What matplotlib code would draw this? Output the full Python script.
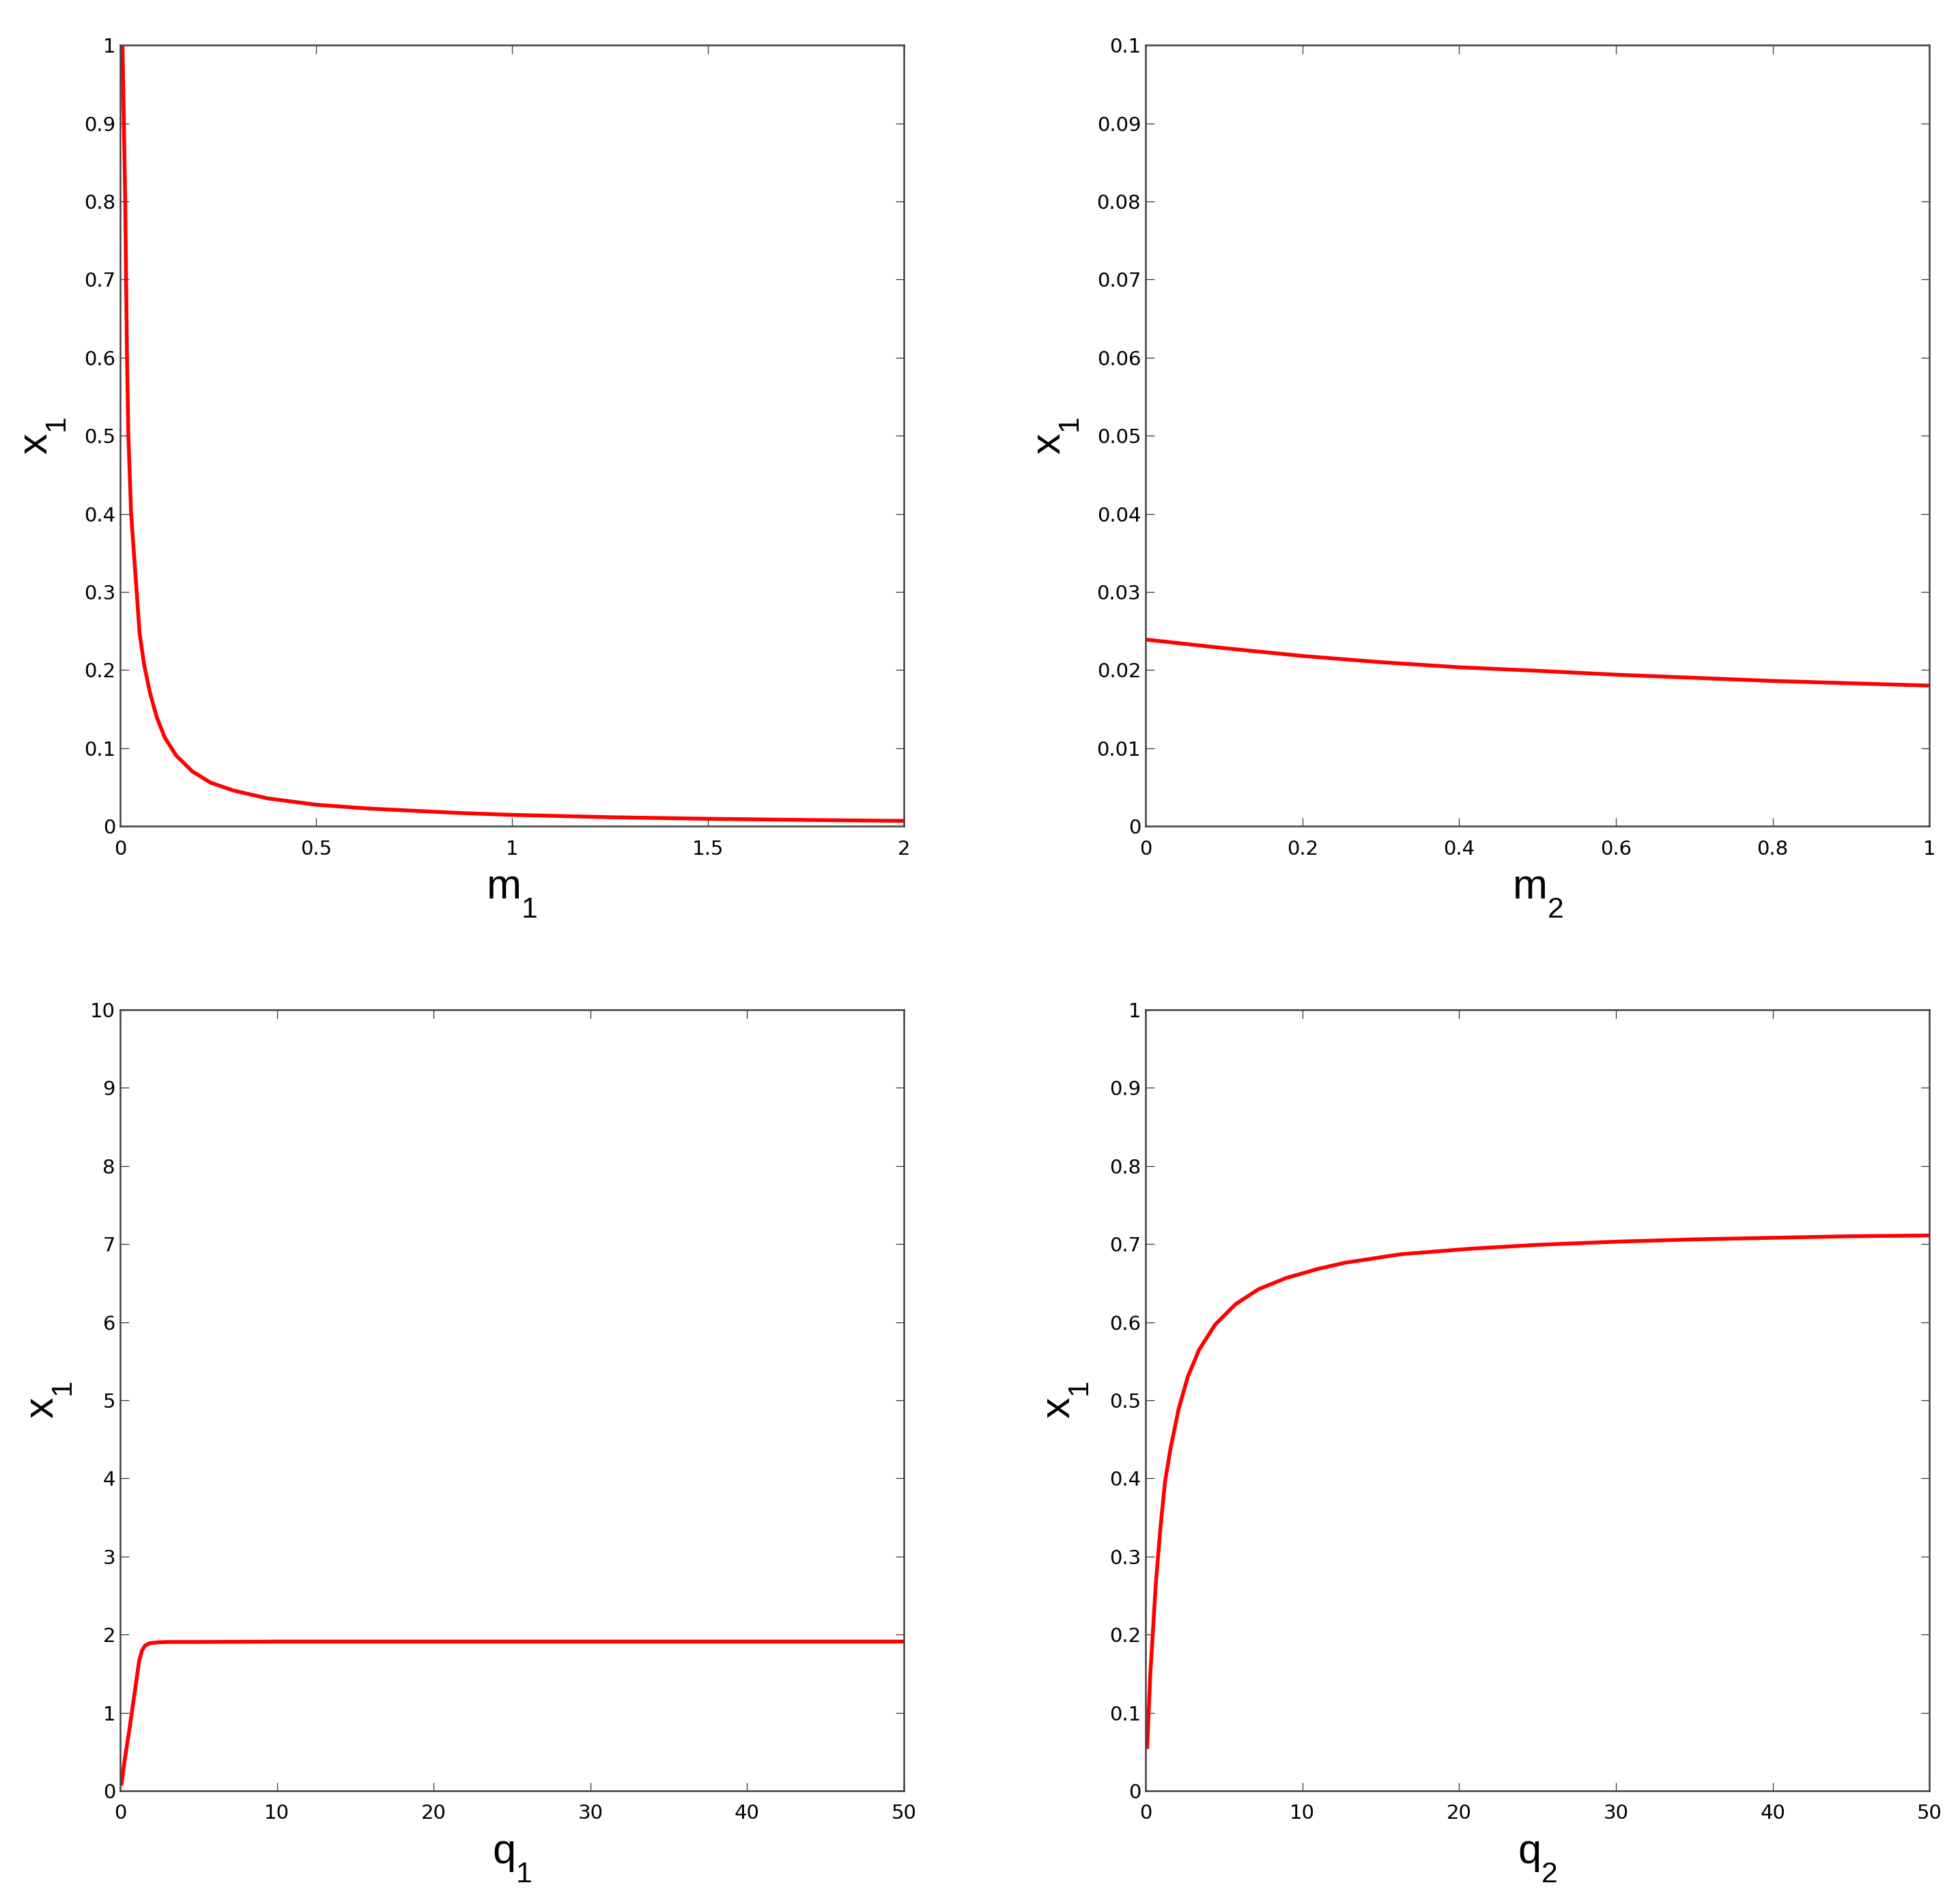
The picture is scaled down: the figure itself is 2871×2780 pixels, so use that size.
import numpy as np
import matplotlib
matplotlib.use('Agg')
import matplotlib.pyplot as plt
from matplotlib.ticker import MultipleLocator, FormatStrFormatter

plt.rcParams['font.family'] = ['Liberation Sans', 'DejaVu Sans']
plt.rcParams['mathtext.fontset'] = 'custom'
plt.rcParams['mathtext.rm'] = 'Liberation Sans'
plt.rcParams['mathtext.it'] = 'Liberation Sans'

# MATLAB drops subscripts further below the baseline than mathtext does
try:
    import matplotlib._mathtext as _mt
    _mt.FontConstantsBase.sub1 = 0.9
except Exception:
    pass

# ===== data =====
# top left: x1 vs m1
m1 = [0.006, 0.0095, 0.013, 0.0152, 0.0175, 0.021, 0.028, 0.0415, 0.0496, 0.0613,
      0.0758, 0.0933, 0.1137, 0.1429, 0.1839, 0.2305, 0.289, 0.3765, 0.5,
      0.628, 0.745, 0.862, 1.0, 1.25, 1.5, 1.75, 2.0]
x1_m1 = [1.0, 0.9, 0.8, 0.7, 0.6, 0.5, 0.4, 0.3047, 0.247, 0.2063,
         0.1716, 0.1398, 0.1137, 0.0905, 0.0703, 0.0558, 0.0457, 0.0356, 0.0275,
         0.0228, 0.0199, 0.017, 0.0145, 0.0115, 0.0095, 0.008, 0.0068]

# top right: x1 vs m2
m2 = [0, 0.1, 0.2, 0.3, 0.4, 0.5, 0.6, 0.7, 0.8, 0.9, 1.0]
x1_m2 = [0.0239, 0.0228, 0.0218, 0.0210, 0.02035, 0.0199, 0.0194, 0.0190, 0.0186, 0.0183, 0.0180]

# bottom left: x1 vs q1
q1 = [0.09, 0.26, 0.6, 0.9, 1.21, 1.4, 1.6, 1.9, 2.4, 3, 5, 10, 20, 30, 40, 50]
x1_q1 = [0.09, 0.355, 0.80, 1.22, 1.66, 1.80, 1.86, 1.89, 1.90, 1.905, 1.905, 1.91, 1.91, 1.91, 1.91, 1.91]

# bottom right: x1 vs q2
q2 = [0.1, 0.3, 0.65, 0.95, 1.24, 1.60, 2.11, 2.69, 3.41, 4.43, 5.74, 7.19, 8.93,
      10.96, 12.7, 16.3, 20.7, 25, 30, 35, 40, 45, 50]
x1_q2 = [0.056, 0.15, 0.265, 0.338, 0.396, 0.4395, 0.489, 0.530, 0.5646, 0.5967, 0.623, 0.642, 0.6563,
         0.668, 0.676, 0.687, 0.694, 0.699, 0.703, 0.706, 0.708, 0.710, 0.711]


def style_axes(ax, xmax, xstep, ymax, ystep, xlabel, ylabel, ylab_x):
    ax.set_xlim(0, xmax)
    ax.set_ylim(0, ymax)
    ax.xaxis.set_major_locator(MultipleLocator(xstep))
    ax.yaxis.set_major_locator(MultipleLocator(ystep))
    ax.xaxis.set_major_formatter(FormatStrFormatter('%g'))
    ax.yaxis.set_major_formatter(FormatStrFormatter('%g'))
    ax.tick_params(direction='in', length=9, width=0.9, labelsize=21,
                   top=True, right=True, color='#333333')
    ax.tick_params(axis='x', pad=14)
    ax.tick_params(axis='y', pad=5)
    for lab in ax.get_xticklabels() + ax.get_yticklabels():
        lab.set_family('DejaVu Sans')
    for s in ax.spines.values():
        s.set_linewidth(1.8)
        s.set_color('#404040')
    ax.set_xlabel(xlabel, fontsize=44)
    ax.set_ylabel(ylabel, fontsize=44)
    ax.xaxis.set_label_coords(0.5, -0.062)
    ax.yaxis.set_label_coords(ylab_x, 0.5)


fig = plt.figure(figsize=(28.71, 27.80), dpi=100)
w = 0.3999
h = 0.4115
ax1 = fig.add_axes([0.0613, 0.5647, w, h])
ax2 = fig.add_axes([0.5845, 0.5647, w, h])
ax3 = fig.add_axes([0.0613, 0.0565, w, h])
ax4 = fig.add_axes([0.5845, 0.0565, w, h])

red = '#ff0000'
ax1.plot(m1, x1_m1, color=red, lw=4)
style_axes(ax1, 2, 0.5, 1, 0.1, r'm$_1$', r'x$_1$', -0.066)

ax2.plot(m2, x1_m2, color=red, lw=4)
style_axes(ax2, 1, 0.2, 0.1, 0.01, r'm$_2$', r'x$_1$', -0.082)

ax3.plot(q1, x1_q1, color=red, lw=4)
style_axes(ax3, 50, 10, 10, 1, r'q$_1$', r'x$_1$', -0.058)

ax4.plot(q2, x1_q2, color=red, lw=4)
style_axes(ax4, 50, 10, 1, 0.1, r'q$_2$', r'x$_1$', -0.07)

fig.savefig('out.png', dpi=100)
